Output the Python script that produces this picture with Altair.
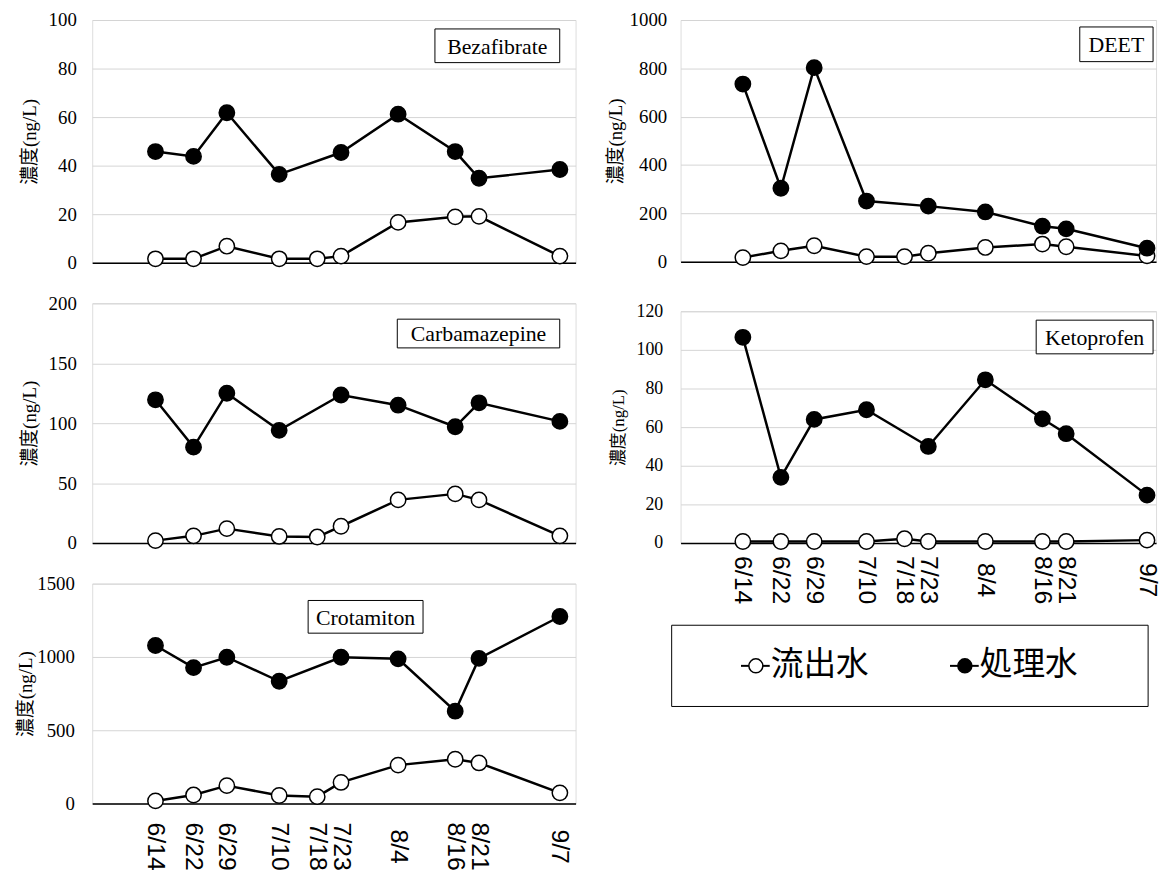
import altair as alt
import pandas as pd
from datetime import date

# ---------------- data ----------------
dates = ["6/14", "6/22", "6/29", "7/10", "7/18", "7/23", "8/4", "8/16", "8/21", "9/7"]
series = ["流出水", "処理水"]

bez_out = [1.6, 1.6, 6.8, 1.6, 1.6, 2.7, 16.6, 18.9, 19.1, 2.7]
bez_trt = [45.8, 43.8, 61.8, 36.4, None, 45.4, 61.2, 45.8, 34.8, 38.4]

deet_out = [17, 45, 66, 21, 21, 35, 59, 73, 62, 24]
deet_trt = [735, 304, 803, 251, None, 230, 206, 147, 136, 56]

carb_out = [2, 6, 12, 5.5, 5, 14, 36, 41, 36, 6]
carb_trt = [119.5, 80, 125, 94, None, 123.5, 115, 97, 117, 101.5]

keto_out = [0.8, 0.8, 0.8, 0.8, 2.2, 0.8, 0.8, 0.8, 0.8, 1.5]
keto_trt = [106.5, 34, 64, 69, None, 50, 84.5, 64.3, 56.6, 24.8]

crot_out = [18, 58, 122, 55, 47, 144, 262, 302, 277, 73]
crot_trt = [1078, 927, 998, 834, None, 998, 987, 630, 990, 1276]

# day offsets from the first sampling date
def day_of(s):
    m, d = s.split("/")
    return (date(2021, int(m), int(d)) - date(2021, 6, 14)).days

days = [day_of(s) for s in dates]
label_expr = " : ".join(f"datum.value == {d} ? '{s}'" for d, s in zip(days, dates)) + " : ''"

fill_scale = alt.Scale(domain=series, range=["white", "black"])
Y_TITLE = "濃度(ng/L)"
SERIF = "Liberation Serif"
TITLE_FONT = "Liberation Serif, Noto Sans CJK JP"


def make_df(out, trt):
    rows = []
    for s, vals in zip(series, [out, trt]):
        for d, lab, v in zip(days, dates, vals):
            if v is not None:
                rows.append({"day": d, "date": lab, "series": s, "value": v})
    return pd.DataFrame(rows)


def panel(name, out, trt, ymax, ystep, w, h, xdom, box, show_x=False,
          xpad=40, ylab=19, ytitle=19, ytp=8, ylp=16, extra=None):
    df = make_df(out, trt)
    x = alt.X(
        "day:Q",
        scale=alt.Scale(domain=xdom, nice=False, zero=False),
        axis=alt.Axis(
            values=days, labelExpr=label_expr, labels=show_x, labelAngle=90,
            labelAlign="center", labelBaseline="middle", labelPadding=xpad,
            labelFont="Liberation Sans", labelFontSize=25, labelColor="black",
            labelOverlap=False, labelFlush=False, ticks=False, grid=False,
            domain=True, domainColor="black", domainWidth=1.5, title=None,
        ),
    )
    y = alt.Y(
        "value:Q",
        scale=alt.Scale(domain=[0, ymax], nice=False),
        axis=alt.Axis(
            values=list(range(0, ymax + 1, ystep)), format="d", title=Y_TITLE,
            grid=True, gridColor="#d4d4d4", gridWidth=1, domain=False, ticks=False,
            labelFont=SERIF, labelFontSize=ylab, labelColor="black", labelPadding=ylp,
            titleFont=TITLE_FONT, titleFontSize=ytitle, titleFontWeight="normal",
            titleColor="black", titlePadding=ytp,
        ),
    )
    base = alt.Chart(df)
    line = base.mark_line(color="black", strokeWidth=2.5).encode(x=x, y=y, detail="series:N")
    pts = base.mark_point(shape="circle", filled=True, size=240, stroke="black",
                          strokeWidth=1.5, opacity=1).encode(
        x=x, y=y, fill=alt.Fill("series:N", scale=fill_scale, legend=None))
    bx1, bx2, by1, by2 = box
    ndf = pd.DataFrame({"name": [name]})
    rect = alt.Chart(ndf).mark_rect(fill="white", stroke="black", strokeWidth=1).encode(
        x=alt.value(bx1), x2=alt.value(bx2), y=alt.value(by1), y2=alt.value(by2))
    txt = alt.Chart(ndf).mark_text(font=SERIF, fontSize=22, color="black").encode(
        x=alt.value((bx1 + bx2) / 2), y=alt.value((by1 + by2) / 2 + 1), text="name:N")
    layers = [line, pts, rect, txt]
    if extra:
        layers += extra
    return alt.layer(*layers).properties(width=w, height=h)


# legend drawn beneath the Ketoprofen panel
def legend_layers():
    lay = []
    box = alt.Chart(pd.DataFrame({"series": series[:1]})).mark_rect(
        fill="white", stroke="black", strokeWidth=1).encode(
        x=alt.value(-9), x2=alt.value(472), y=alt.value(317), y2=alt.value(399))
    lay.append(box)
    ly = 358
    for s, cx in zip(series, [76, 287]):
        sdf = pd.DataFrame({"series": [s]})
        lay.append(alt.Chart(sdf).mark_rule(color="black", strokeWidth=2).encode(
            x=alt.value(cx - 15), x2=alt.value(cx + 14), y=alt.value(ly)))
        lay.append(alt.Chart(sdf).mark_point(shape="circle", filled=True, size=200,
                                             stroke="black", strokeWidth=1.5, opacity=1).encode(
            x=alt.value(cx), y=alt.value(ly),
            fill=alt.Fill("series:N", scale=fill_scale, legend=None)))
        lay.append(alt.Chart(sdf).mark_text(align="left", baseline="middle",
                                            font="Noto Sans CJK JP", fontSize=33,
                                            color="black").encode(
            x=alt.value(cx + 15), y=alt.value(ly - 1), text="series:N"))
    return lay


XL = [-13.3, 88.3]
XR = [-13.1, 86.9]

bez = panel("Bezafibrate", bez_out, bez_trt, 100, 20, 488, 245, XL, (346, 472, 9, 43), ytp=9)
carb = panel("Carbamazepine", carb_out, carb_trt, 200, 50, 488, 242, XL, (308, 472, 16, 45), ytp=9)
crot = panel("Crotamiton", crot_out, crot_trt, 1500, 500, 488, 222, XL, (218, 334, 17, 50),
             show_x=True, xpad=43, ytp=1, ylp=18)
deet = panel("DEET", deet_out, deet_trt, 1000, 200, 480, 244, XR, (403, 477, 7, 42), ytp=4, ylp=14)
keto = panel("Ketoprofen", keto_out, keto_trt, 120, 20, 480, 234, XR, (359, 477, 9, 43),
             show_x=True, xpad=37, ylab=18, ytitle=17, ytp=9, ylp=18, extra=legend_layers())

left = alt.vconcat(bez, carb, crot, spacing=41, bounds="flush")
right = alt.vconcat(deet, keto, spacing=50, bounds="flush")

chart = alt.hconcat(left, right, spacing=29).properties(
    padding={"left": 8, "top": -2, "right": 0, "bottom": 0}
).configure_view(stroke="black", strokeWidth=1).configure(background="white")

chart.save("out.html", embed_options={"renderer": "svg", "actions": False})
